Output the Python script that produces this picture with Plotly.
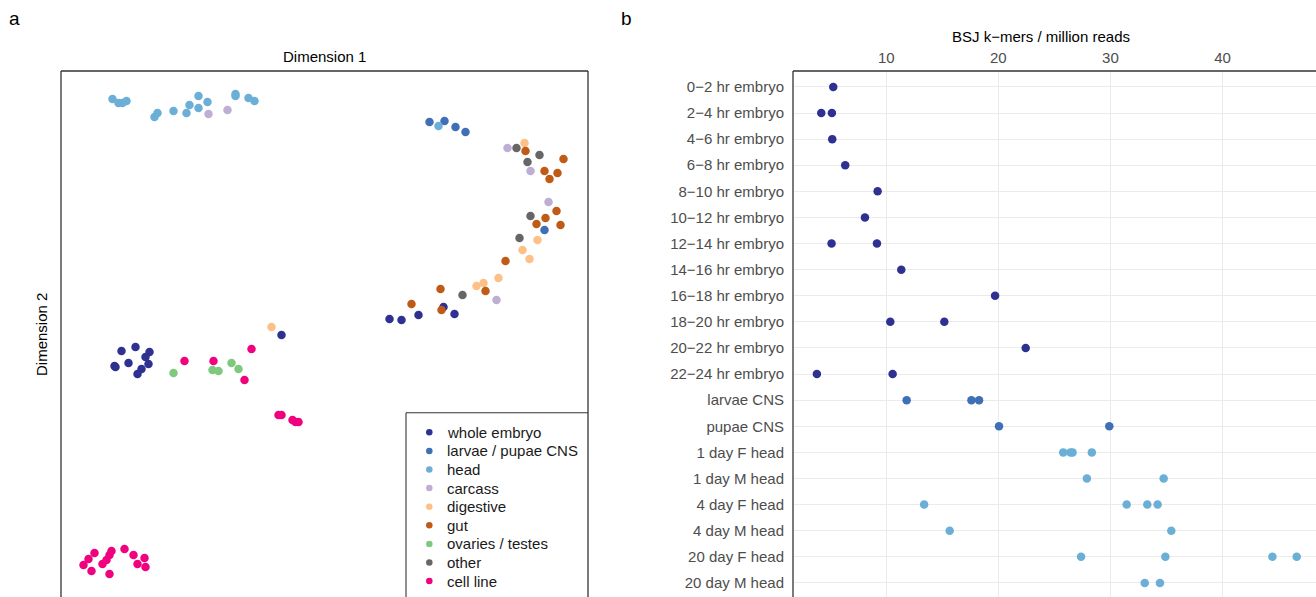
import plotly.graph_objects as go

W, H = 1316, 597
FONT = "Liberation Sans, Arial, sans-serif"

# ---------------- Panel a : MDS-like embedding ----------------
tissues = ["whole embryo", "larvae / pupae CNS", "head", "carcass", "digestive",
           "gut", "ovaries / testes", "other", "cell line"]
tissue_colors = ["#2E3192", "#3F6FB4", "#6BAED6", "#BEAED4", "#FDC086",
                 "#BF5B17", "#7FC97F", "#666666", "#F0027F"]

embryo_d1 = [11.9, 13.0, 9.4, 6.5, 7.7, -4.3, -20.3, -18.9, -17.5, -17.9, -19.6, -21.0, -20.9, -17.6, -18.3, -18.7]
embryo_d2 = [2.8, 2.1, 2.0, 1.6, 1.5, 0.0, -1.6, -1.2, -1.7, -2.2, -2.8, -3.1, -3.2, -2.9, -3.4, -3.9]

cns_d1 = [10.5, 12.0, 13.1, 14.1, 22.0]
cns_d2 = [21.3, 21.4, 20.8, 20.3, 10.5]

head_d1 = [-21.2, -20.6, -20.2, -19.8, -17.0, -16.7, -15.1, -13.8, -13.5, -12.6, -12.6, -11.7, -8.9, -8.9, -7.6, -7.0, 11.4]
head_d2 = [23.6, 23.2, 23.2, 23.4, 21.8, 22.2, 22.4, 22.2, 23.0, 23.9, 22.7, 23.3, 24.1, 23.9, 23.7, 23.4, 20.9]

carcass_d1 = [-11.6, -9.7, 18.3, 20.6, 22.4, 17.2]
carcass_d2 = [22.1, 22.5, 18.7, 16.4, 13.3, 3.5]

digestive_d1 = [20.0, 21.3, 19.8, 20.5, 17.4, 15.9, 15.2, -5.3]
digestive_d2 = [19.2, 9.5, 8.5, 7.6, 5.7, 5.2, 4.9, 0.8]

gut_d1 = [20.1, 23.9, 22.0, 23.3, 22.5, 23.2, 22.1, 21.2, 23.6, 18.1, 16.1, 11.6, 8.7, 11.7]
gut_d2 = [18.4, 17.6, 16.4, 16.2, 15.6, 12.4, 11.7, 11.1, 11.0, 7.4, 4.4, 4.6, 3.1, 2.5]

ovary_d1 = [-15.1, -11.2, -10.6, -9.3, -8.6]
ovary_d2 = [-3.8, -3.5, -3.6, -2.8, -3.4]

other_d1 = [19.2, 21.5, 20.3, 20.6, 19.5, 13.8]
other_d2 = [18.7, 18.0, 17.3, 11.9, 9.7, 4.0]

cellline_d1 = [-14.0, -11.1, -7.3, -8.0, -4.6, -4.3, -3.2, -2.9, -2.6,
               -24.1, -23.6, -23.0, -23.3, -22.2, -21.8, -21.5, -21.3, -21.5, -20.0, -19.1, -18.0, -18.7, -17.9]
cellline_d2 = [-2.6, -2.6, -1.4, -4.5, -8.0, -8.0, -8.5, -8.7, -8.7,
               -23.0, -22.4, -21.8, -23.6, -22.9, -22.5, -22.0, -21.6, -23.9, -21.4, -22.0, -22.3, -22.9, -23.2]

panel_a_d1 = [embryo_d1, cns_d1, head_d1, carcass_d1, digestive_d1, gut_d1, ovary_d1, other_d1, cellline_d1]
panel_a_d2 = [embryo_d2, cns_d2, head_d2, carcass_d2, digestive_d2, gut_d2, ovary_d2, other_d2, cellline_d2]

# ---------------- Panel b : BSJ k-mers per million reads ----------------
samples = ["0−2 hr embryo", "2−4 hr embryo", "4−6 hr embryo", "6−8 hr embryo",
           "8−10 hr embryo", "10−12 hr embryo", "12−14 hr embryo", "14−16 hr embryo",
           "16−18 hr embryo", "18−20 hr embryo", "20−22 hr embryo", "22−24 hr embryo",
           "larvae CNS", "pupae CNS", "1 day F head", "1 day M head",
           "4 day F head", "4 day M head", "20 day F head", "20 day M head"]
sample_group = ["whole embryo"] * 12 + ["larvae / pupae CNS"] * 2 + ["head"] * 6

bsj_sample = ["0−2 hr embryo",
              "2−4 hr embryo", "2−4 hr embryo",
              "4−6 hr embryo",
              "6−8 hr embryo",
              "8−10 hr embryo",
              "10−12 hr embryo",
              "12−14 hr embryo", "12−14 hr embryo",
              "14−16 hr embryo",
              "16−18 hr embryo",
              "18−20 hr embryo", "18−20 hr embryo",
              "20−22 hr embryo",
              "22−24 hr embryo", "22−24 hr embryo",
              "larvae CNS", "larvae CNS", "larvae CNS",
              "pupae CNS", "pupae CNS",
              "1 day F head", "1 day F head", "1 day F head", "1 day F head",
              "1 day M head", "1 day M head",
              "4 day F head", "4 day F head", "4 day F head", "4 day F head",
              "4 day M head", "4 day M head",
              "20 day F head", "20 day F head", "20 day F head", "20 day F head",
              "20 day M head", "20 day M head"]
bsj_value = [5.27,
             4.20, 5.15,
             5.18,
             6.34,
             9.23,
             8.10,
             5.12, 9.17,
             11.34,
             19.71,
             10.36, 15.18,
             22.44,
             3.81, 10.57,
             11.82, 17.60, 18.28,
             20.06, 29.90,
             25.79, 26.44, 26.62, 28.34,
             27.90, 34.75,
             13.38, 31.45, 33.29, 34.21,
             15.66, 35.43,
             27.38, 34.90, 44.45, 46.62,
             33.06, 34.42]
x_ticks = [10, 20, 30, 40]

# ---------------- Figure ----------------
def fx(p):
    return p / W

def fy(p):
    return 1 - p / H

fig = go.Figure()
color_of = dict(zip(tissues, tissue_colors))

for name, col, d1, d2 in zip(tissues, tissue_colors, panel_a_d1, panel_a_d2):
    fig.add_trace(go.Scatter(x=d1, y=d2, mode="markers", name=name, showlegend=False,
                             marker=dict(color=col, size=8.5, line=dict(width=0)),
                             xaxis="x", yaxis="y"))

group_of = dict(zip(samples, sample_group))
for grp in ["whole embryo", "larvae / pupae CNS", "head"]:
    xs = [v for s, v in zip(bsj_sample, bsj_value) if group_of[s] == grp]
    ys = [s for s in bsj_sample if group_of[s] == grp]
    fig.add_trace(go.Scatter(x=xs, y=ys, mode="markers", showlegend=False, name=grp,
                             marker=dict(color=color_of[grp], size=8.5, line=dict(width=0)),
                             xaxis="x2", yaxis="y2"))

# Legend for panel a (drawn as keys on its own small axes so spacing matches)
legend_rows = list(range(len(tissues)))
fig.add_trace(go.Scatter(x=[0] * len(tissues), y=legend_rows, mode="markers",
                         showlegend=False, hoverinfo="skip",
                         marker=dict(color=tissue_colors, size=6.5, line=dict(width=0)),
                         xaxis="x3", yaxis="y3"))

top = 71
frame = dict(color="#333333", width=1.3)
leg_left, leg_top, leg_right = 406, 412.7, 588
shapes = [
    # panel a border (left, top, right)
    dict(type="line", xref="paper", yref="paper", x0=fx(61), x1=fx(61), y0=0, y1=fy(top), line=frame),
    dict(type="line", xref="paper", yref="paper", x0=fx(61), x1=fx(588), y0=fy(top), y1=fy(top), line=frame),
    dict(type="line", xref="paper", yref="paper", x0=fx(588), x1=fx(588), y0=0, y1=fy(top), line=frame),
    # panel b border (left, top)
    dict(type="line", xref="paper", yref="paper", x0=fx(793), x1=fx(793), y0=0, y1=fy(top), line=frame),
    dict(type="line", xref="paper", yref="paper", x0=fx(793), x1=1, y0=fy(top), y1=fy(top), line=frame),
    # legend box (left, top)
    dict(type="line", xref="paper", yref="paper", x0=fx(leg_left), x1=fx(leg_left), y0=0, y1=fy(leg_top),
         line=dict(color="#333333", width=1.1)),
    dict(type="line", xref="paper", yref="paper", x0=fx(leg_left), x1=fx(leg_right), y0=fy(leg_top), y1=fy(leg_top),
         line=dict(color="#333333", width=1.1)),
]

annotations = [
    dict(text="a", x=fx(14), y=fy(19), xref="paper", yref="paper", showarrow=False,
         xanchor="center", yanchor="middle", font=dict(size=19, color="black")),
    dict(text="b", x=fx(626), y=fy(18), xref="paper", yref="paper", showarrow=False,
         xanchor="center", yanchor="middle", font=dict(size=19, color="black")),
    dict(text="Dimension 1", x=fx(324), y=fy(57), xref="paper", yref="paper", showarrow=False,
         xanchor="center", yanchor="middle", font=dict(size=15, color="black")),
    dict(text="Dimension 2", x=fx(42), y=fy(335), xref="paper", yref="paper", showarrow=False,
         textangle=-90, xanchor="center", yanchor="middle", font=dict(size=15, color="black")),
    dict(text="BSJ k−mers / million reads", x=fx(1041), y=fy(37), xref="paper", yref="paper",
         showarrow=False, xanchor="center", yanchor="middle", font=dict(size=15, color="black")),
]
for row, name in zip(legend_rows, tissues):
    annotations.append(dict(text=name, x=0.88, y=row, xref="x3", yref="y3", showarrow=False,
                            xanchor="left", yanchor="middle", borderpad=0,
                            font=dict(size=15, color="#1A1A1A")))

row_px = 18.6
first_px = 432.3
fig.update_layout(
    width=W, height=H,
    margin=dict(l=0, r=0, t=0, b=0),
    paper_bgcolor="white", plot_bgcolor="rgba(0,0,0,0)",
    font=dict(family=FONT, size=15, color="#1A1A1A"),
    xaxis=dict(domain=[fx(61), fx(588)], range=[-26.35, 26.35], visible=False, anchor="y"),
    yaxis=dict(domain=[0, fy(top)], range=[-26.2, 26.4], visible=False, anchor="x"),
    xaxis2=dict(domain=[fx(793), 1], range=[1.68, 48.34], side="top", anchor="y2",
                tickvals=x_ticks, showgrid=True, gridcolor="#EBEBEB", gridwidth=1.4,
                zeroline=False, showline=False, ticks="", ticklabelstandoff=4,
                tickfont=dict(size=15, color="#4D4D4D")),
    yaxis2=dict(domain=[0, fy(top)], type="category", categoryorder="array",
                categoryarray=samples, range=[19.54, -0.61], anchor="x2",
                showgrid=True, gridcolor="#EBEBEB", gridwidth=1.4, zeroline=False,
                showline=False, ticks="", ticklabelstandoff=8,
                tickfont=dict(size=15, color="#4D4D4D")),
    # legend key axes: units of one legend row / one key width
    xaxis3=dict(domain=[fx(leg_left), fx(leg_right)], range=[-(429.3 - leg_left) / row_px, (leg_right - 429.3) / row_px],
                visible=False, anchor="y3", fixedrange=True),
    yaxis3=dict(domain=[0, fy(leg_top)], range=[(H - first_px) / row_px, -(first_px - leg_top) / row_px],
                visible=False, anchor="x3", fixedrange=True),
    shapes=shapes,
    annotations=annotations,
    showlegend=False,
)

fig.write_html("out.html", config={"displayModeBar": False},
               post_script="document.body.style.margin='0';document.body.style.padding='0';")
